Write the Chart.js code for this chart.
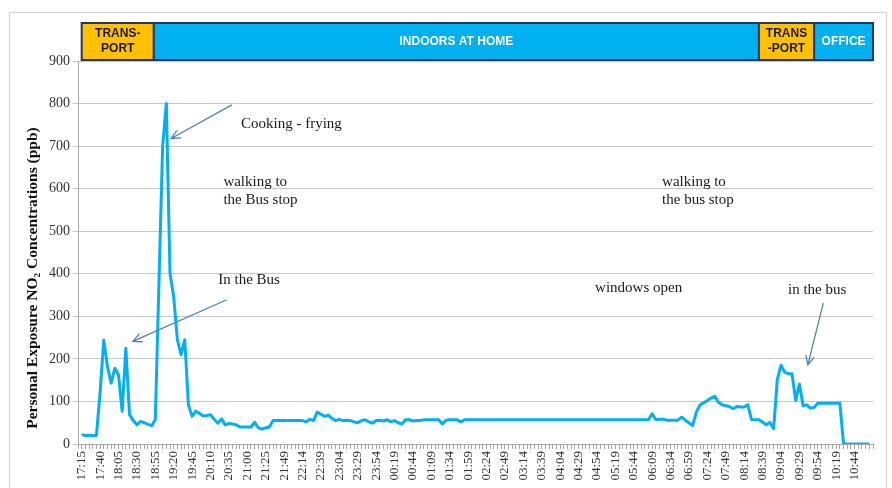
<!DOCTYPE html>
<html>
<head>
<meta charset="utf-8">
<script src="https://cdn.jsdelivr.net/npm/chart.js@4.4.1/dist/chart.umd.min.js"></script>
<style>
  html, body { margin: 0; padding: 0; background: #fff; }
</style>
</head>
<body>
<canvas id="chart" width="892" height="488"></canvas>
<script>
// x tick labels, one every 5 readings
const tickLabels = [
    '17:15', '17:40', '18:05', '18:30', '18:55', '19:20', '19:45', '20:10', '20:35', '21:00',
    '21:25', '21:49', '22:14', '22:39', '23:04', '23:29', '23:54', '00:19', '00:44', '01:09',
    '01:34', '01:59', '02:24', '02:49', '03:14', '03:39', '04:04', '04:29', '04:54', '05:19',
    '05:44', '06:09', '06:34', '06:59', '07:24', '07:49', '08:14', '08:39', '09:04', '09:29',
    '09:54', '10:19', '10:44'
];

// personal NO2 exposure (ppb), one value per reading
const no2 = [
    22, 20, 20, 20, 20, 120, 244, 182, 143, 178,
    163, 77, 225, 69, 55, 45, 53, 50, 46, 43,
    57, 380, 700, 800, 401, 346, 245, 210, 245, 92,
    65, 77, 72, 66, 67, 69, 58, 49, 59, 45,
    48, 47, 45, 40, 40, 40, 40, 51, 38, 35,
    38, 40, 55, 55, 55, 55, 55, 55, 55, 55,
    55, 52, 58, 55, 75, 70, 65, 68, 60, 55,
    58, 55, 56, 55, 52, 50, 55, 57, 52, 49,
    55, 56, 54, 57, 52, 55, 50, 47, 57, 57,
    54, 55, 55, 57, 57, 57, 57, 57, 47, 56,
    57, 57, 57, 52, 57, 57, 57, 57, 57, 57,
    57, 57, 57, 57, 57, 57, 57, 57, 57, 57,
    57, 57, 57, 57, 57, 57, 57, 57, 57, 57,
    57, 57, 57, 57, 57, 57, 57, 57, 57, 57,
    57, 57, 57, 57, 57, 57, 57, 57, 57, 57,
    57, 57, 57, 57, 57, 71, 57, 58, 58, 56,
    56, 56, 56, 63, 56, 50, 43, 75, 92, 97,
    102, 108, 112, 98, 92, 90, 88, 83, 88, 87,
    87, 92, 57, 57, 57, 51, 45, 51, 36, 152,
    185, 169, 165, 165, 102, 141, 90, 92, 84, 86,
    96, 96, 96, 96, 96, 96, 96, 0, 0, 0,
    0, 0, 0, 0, 0
];

// where the person was (reading index ranges)
const periods = [
    { kind: 'transport', label: ['TRANS-', 'PORT'], from: 0, to: 19.6 },
    { kind: 'indoor', label: ['INDOORS AT HOME'], from: 19.6, to: 184 },
    { kind: 'transport', label: ['TRANS', '-PORT'], from: 184, to: 199 },
    { kind: 'indoor', label: ['OFFICE'], from: 199, to: 215 }
];

// text notes and arrows, in data units (reading index, ppb)
const notes = [
    { lines: ['Cooking - frying'], x: 43.3, y: 752 },
    { lines: ['walking to', 'the Bus stop'], x: 38.5, y: 616 },
    { lines: ['In the Bus'], x: 37.1, y: 386 },
    { lines: ['walking to', 'the bus stop'], x: 157.7, y: 616 },
    { lines: ['windows open'], x: 139.5, y: 367 },
    { lines: ['in the bus'], x: 191.9, y: 362 }
];
const arrows = [
    { from: [40.8, 797], to: [24.3, 718] },
    { from: [39.4, 339], to: [13.9, 241] },
    { from: [201.5, 331], to: [197.3, 186] }
];

const bannerFill = { transport: '#FFC000', indoor: '#00B0F0' };
const bannerText = { transport: '#1a1a1a', indoor: '#ffffff' };

const overlay = {
    id: 'overlay',
    beforeDraw(chart) {
        const ctx = chart.ctx;
        ctx.save();
        ctx.fillStyle = '#fff';
        ctx.fillRect(0, 0, chart.width, chart.height);
        ctx.strokeStyle = '#D0D0D0';
        ctx.lineWidth = 1;
        ctx.strokeRect(9.5, 12.5, 877, 500);
        ctx.restore();
    },
    afterDraw(chart) {
        const { ctx, chartArea, scales: { x, y } } = chart;
        ctx.save();

        // activity banner
        const top = 23, bottom = chartArea.top - 1;
        periods.forEach(p => {
            const x0 = x.getPixelForValue(p.from);
            const x1 = x.getPixelForValue(p.to);
            ctx.fillStyle = bannerFill[p.kind];
            ctx.fillRect(x0, top, x1 - x0, bottom - top);
            ctx.strokeStyle = '#1F3864';
            ctx.lineWidth = 2;
            ctx.strokeRect(x0, top, x1 - x0, bottom - top);
            ctx.fillStyle = bannerText[p.kind];
            ctx.font = 'bold 12px "Liberation Sans"';
            ctx.textAlign = 'center';
            ctx.textBaseline = 'middle';
            const cx = (x0 + x1) / 2, cy = (top + bottom) / 2;
            const lh = 15;
            p.label.forEach((t, i) => {
                ctx.fillText(t, cx, cy + (i - (p.label.length - 1) / 2) * lh);
            });
        });

        // y axis title
        ctx.save();
        ctx.translate(33, 278);
        ctx.rotate(-Math.PI / 2);
        ctx.fillStyle = '#111';
        ctx.font = 'bold 15.5px "Liberation Serif"';
        ctx.textAlign = 'center';
        ctx.textBaseline = 'middle';
        ctx.fillText('Personal Exposure NO\u2082 Concentrations (ppb)', 0, 0);
        ctx.restore();

        // notes
        ctx.fillStyle = '#1a1a1a';
        ctx.font = '15px "Liberation Serif"';
        ctx.textAlign = 'left';
        ctx.textBaseline = 'middle';
        notes.forEach(n => {
            const px = x.getPixelForValue(n.x);
            const py = y.getPixelForValue(n.y);
            n.lines.forEach((t, i) => ctx.fillText(t, px, py + i * 18));
        });

        // arrows
        ctx.strokeStyle = '#4F81BD';
        ctx.lineWidth = 1.3;
        arrows.forEach(a => {
            const x0 = x.getPixelForValue(a.from[0]), y0 = y.getPixelForValue(a.from[1]);
            const x1 = x.getPixelForValue(a.to[0]), y1 = y.getPixelForValue(a.to[1]);
            const ang = Math.atan2(y1 - y0, x1 - x0);
            ctx.beginPath();
            ctx.moveTo(x0, y0);
            ctx.lineTo(x1, y1);
            ctx.moveTo(x1 - 10 * Math.cos(ang - 0.45), y1 - 10 * Math.sin(ang - 0.45));
            ctx.lineTo(x1, y1);
            ctx.lineTo(x1 - 10 * Math.cos(ang + 0.45), y1 - 10 * Math.sin(ang + 0.45));
            ctx.stroke();
        });

        ctx.restore();
    }
};

new Chart(document.getElementById('chart').getContext('2d'), {
    type: 'line',
    data: {
        datasets: [{
            data: no2.map((v, i) => ({ x: i, y: v })),
            borderColor: '#00B0F0',
            borderWidth: 3,
            pointRadius: 0,
            tension: 0,
            fill: false,
            borderJoinStyle: 'round'
        }]
    },
    options: {
        responsive: false,
        animation: false,
        layout: { padding: { top: 61, right: 19, left: 0, bottom: 0 } },
        plugins: {
            legend: { display: false },
            tooltip: { enabled: false }
        },
        scales: {
            x: {
                type: 'linear',
                min: -1,
                max: 215,
                afterFit(scale) { scale.height = 44; },
                grid: { drawOnChartArea: false, color: '#A6A6A6', tickLength: 5 },
                border: { color: '#A6A6A6' },
                ticks: {
                    stepSize: 1,
                    autoSkip: false,
                    minRotation: 90,
                    maxRotation: 90,
                    padding: 2,
                    color: '#333',
                    font: { family: 'Liberation Serif', size: 13 },
                    callback: v => (v >= 0 && v % 5 === 0 && tickLabels[v / 5]) ? tickLabels[v / 5] : ''
                }
            },
            y: {
                min: 0,
                max: 900,
                afterFit(scale) { scale.width = 78; },
                grid: { color: '#C6C6C6', tickLength: 5 },
                border: { color: '#A6A6A6' },
                ticks: {
                    stepSize: 100,
                    padding: 3,
                    color: '#333',
                    font: { family: 'Liberation Serif', size: 14 }
                }
            }
        }
    },
    plugins: [overlay]
});
</script>
</body>
</html>
